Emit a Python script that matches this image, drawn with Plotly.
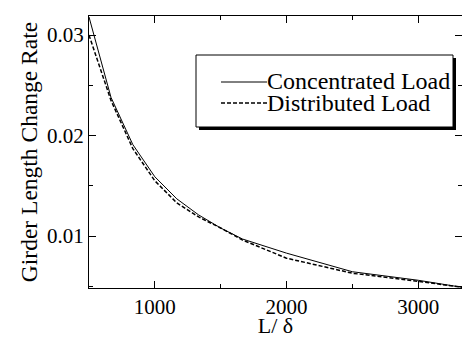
import plotly.graph_objects as go

L_delta = [500, 667, 833, 1000, 1167, 1333, 1500, 1667, 2000, 2500, 3000, 3333]
concentrated = [0.0318, 0.0238, 0.0191, 0.0159, 0.0137, 0.0121, 0.0108, 0.0097, 0.0083, 0.00645, 0.0056, 0.0049]
distributed = [0.0300, 0.0235, 0.0187, 0.0155, 0.0133, 0.0119, 0.0108, 0.0096, 0.0078, 0.0063, 0.0055, 0.0049]
series_names = ["Concentrated Load", "Distributed Load"]

FONT = "'Liberation Serif', 'Times New Roman', Times, serif"
W, H = 462, 338
L, R, T, B = 89, 0, 16, 50
PW, PH = W - L - R, H - T - B


def px(xp):
    return (xp - L) / PW


def py(yp):
    return (H - B - yp) / PH


fig = go.Figure()
fig.add_trace(go.Scatter(x=L_delta, y=concentrated, mode="lines", name=series_names[0],
                         line=dict(color="black", width=1), showlegend=False))
fig.add_trace(go.Scatter(x=L_delta, y=distributed, mode="lines", name=series_names[1],
                         line=dict(color="black", width=1.5, dash="4px,2px"), showlegend=False))

axis_common = dict(showgrid=False, zeroline=False, showline=True, linecolor="black", linewidth=1,
                   mirror="ticks", ticks="inside", ticklen=7, tickcolor="black", tickwidth=1,
                   tickfont=dict(family=FONT, size=21, color="black"))

fig.update_xaxes(range=[500, 3333], tickvals=[1000, 2000, 3000], ticktext=["1000", "2000", "3000"],
                 minor=dict(ticks="inside", ticklen=4, tickcolor="black", dtick=500, tick0=0),
                 title=dict(text="L/ δ", font=dict(family=FONT, size=22, color="black"), standoff=0),
                 **axis_common)
fig.update_yaxes(range=[0.00483, 0.0319], tickvals=[0.01, 0.02, 0.03], ticktext=["0.01", "0.02", "0.03"],
                 minor=dict(ticks="inside", ticklen=4, tickcolor="black", dtick=0.005, tick0=0),
                 title=dict(text="Girder Length Change Rate", font=dict(family=FONT, size=23.5, color="black"), standoff=2),
                 **axis_common)

# legend box with shadow
fig.add_shape(type="rect", xref="paper", yref="paper", x0=px(199), x1=px(456),
              y0=py(130), y1=py(58), fillcolor="black", line=dict(width=0), layer="below")
fig.add_shape(type="rect", xref="paper", yref="paper", x0=px(196), x1=px(453),
              y0=py(127), y1=py(55), fillcolor="white", line=dict(color="black", width=1), layer="below")
# legend samples
fig.add_shape(type="line", xref="paper", yref="paper", x0=px(221), x1=px(267), y0=py(82), y1=py(82),
              line=dict(color="black", width=1))
fig.add_shape(type="line", xref="paper", yref="paper", x0=px(221), x1=px(267), y0=py(103), y1=py(103),
              line=dict(color="black", width=1.5, dash="4px,2px"))
for name, yc in zip(series_names, [81, 103]):
    fig.add_annotation(xref="paper", yref="paper", x=px(267), y=py(yc), text=name, showarrow=False,
                       xanchor="left", yanchor="middle", xshift=-2,
                       font=dict(family=FONT, size=24, color="black"))

fig.update_layout(
    width=W, height=H,
    margin=dict(l=L, r=R, t=T, b=B),
    paper_bgcolor="white", plot_bgcolor="rgba(0,0,0,0)",
    font=dict(family=FONT, color="black"),
    showlegend=False,
)

fig.write_html("out.html", config={"displayModeBar": False},
               post_script="document.body.style.margin='0';document.body.style.padding='0';")
